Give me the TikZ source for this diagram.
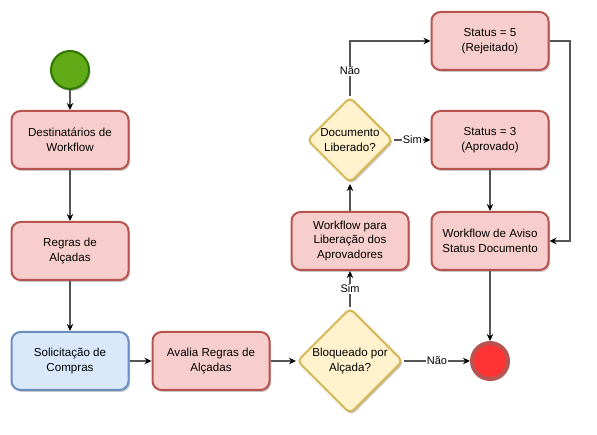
\documentclass[tikz,border=0pt]{standalone}
\usepackage{fontspec}
\setmainfont{Liberation Sans}
\usetikzlibrary{shapes.geometric,arrows.meta,shadows}
\definecolor{redfill}{HTML}{F8CECC}
\definecolor{redline}{HTML}{B85450}
\definecolor{bluefill}{HTML}{DAE8FC}
\definecolor{blueline}{HTML}{6C8EBF}
\definecolor{yelfill}{HTML}{FFF2CC}
\definecolor{yelline}{HTML}{D6B656}
\definecolor{greenfill}{HTML}{60A917}
\definecolor{greenline}{HTML}{2D7600}
\definecolor{endfill}{HTML}{FF3333}
\definecolor{edgecol}{HTML}{555555}
\tikzset{
  shad/.style={drop shadow={shadow xshift=1.5pt, shadow yshift=-2pt, opacity=0.22, fill=black}},
  txt/.style={font=\fontsize{11.6}{14.5}\selectfont, align=center},
  box/.style={txt, draw=redline, fill=redfill, line width=2pt, rounded corners=9pt,
    minimum width=117pt, minimum height=58pt, inner sep=2pt, shad},
  bluebox/.style={box, draw=blueline, fill=bluefill},
  dec/.style={diamond, draw=yelline, fill=yelfill, line width=2pt, rounded corners=5pt,
    minimum width=#1, minimum height=#1, inner sep=0pt, shad},
  edge/.style={draw=edgecol, line width=1.2pt, -{Stealth[length=7pt,width=6.5pt,black]}},
  lbl/.style={font=\fontsize{11}{13}\selectfont, fill=white, inner sep=1pt, text=black},
}
\begin{document}
\begin{tikzpicture}[x=1pt,y=-1pt]
\useasboundingbox (0,0) rectangle (597,435);
\node[circle, draw=greenline, fill=greenfill, line width=2pt, minimum size=38pt, shad] (s) at (70,70) {};
\node[box] (b1) at (70,140) {Destinatários de\\Workflow};
\node[box] (b2) at (70,251) {Regras de\\Alçadas};
\node[bluebox] (b3) at (70,361) {Solicitação de\\Compras};
\node[box] (b4) at (211,361) {Avalia Regras de\\Alçadas};
\node[dec=106pt] (d1) at (350,361) {};
\node[txt] (d1t) at (d1) {Bloqueado por\\Alçada?};
\node[circle, draw=redline, fill=endfill, line width=4pt, minimum size=36pt, shad] (e) at (490,361) {};
\node[box] (wf) at (350,241) {Workflow para\\Liberação dos\\Aprovadores};
\node[dec=86pt] (d2) at (350,140) {};
\node[txt] (d2t) at (d2) {Documento\\Liberado?};
\node[box] (s3) at (490,140) {Status = 3\\(Aprovado)};
\node[box] (s5) at (490,41) {Status = 5\\(Rejeitado)};
\node[box] (wa) at (490,241) {Workflow de Aviso\\Status Documento};
\coordinate (c1) at (570,41);

\draw[edge] (s) -- (b1);
\draw[edge] (b1) -- (b2);
\draw[edge] (b2) -- (b3);
\draw[edge] (b3) -- (b4);
\draw[edge] (b4) -- (d1);
\draw[edge] (d1) -- node[lbl]{Não} (e);
\draw[edge] (d1) -- node[lbl]{Sim} (wf);
\draw[edge] (wf) -- (d2);
\draw[edge] (d2.north) |- node[lbl, pos=0.23]{Não} (s5);
\draw[edge] (d2) -- node[lbl]{Sim} (s3);
\draw[edge] (s3) -- (wa);
\draw[edge] (s5.east) -- (c1) |- (wa.east);
\draw[edge] (wa) -- (e);
\end{tikzpicture}
\end{document}
